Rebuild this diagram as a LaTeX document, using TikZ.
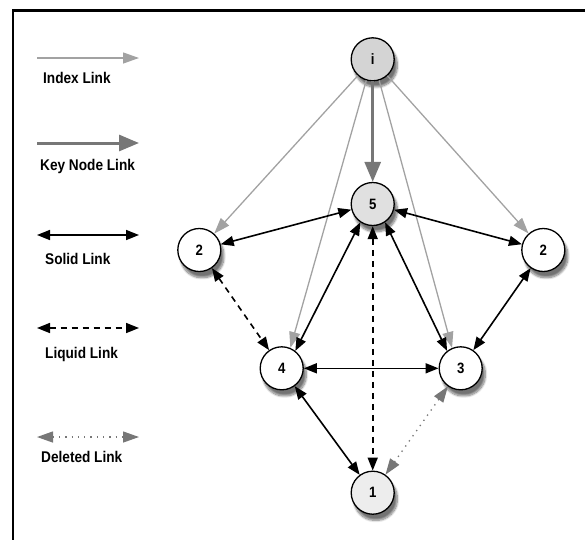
\documentclass[tikz,border=0pt]{standalone}
\usepackage{fontspec}
\usepackage{graphicx}
\setmainfont{Liberation Sans}
\usetikzlibrary{arrows.meta,shadows.blur}

\definecolor{indexgray}{HTML}{A2A2A2}
\definecolor{keygray}{HTML}{777777}

\newcommand{\narrow}[1]{\scalebox{0.88}[1]{#1}}

\tikzset{
  peer/.style={circle, draw, line width=1.3, minimum size=43, inner sep=0,
    fill=white, font=\fontsize{15}{17}\selectfont\bfseries,
    blur shadow={shadow xshift=3pt, shadow yshift=-6pt, shadow blur steps=10, shadow blur extra rounding=2pt, shadow opacity=55}},
  keypeer/.style={peer, fill=black!12},
  indexlink/.style={indexgray, line width=1.3, -{Triangle[length=16,width=11]}},
  keylink/.style={keygray, line width=3, -{Triangle[length=20,width=16]}},
  solidlink/.style={line width=1.6, {Triangle[length=13,width=10]}-{Triangle[length=13,width=10]}},
  liquidlink/.style={solidlink, dash pattern=on 6 off 5},
  deletedlink/.style={keygray, line width=1.3, dash pattern=on 1.3 off 5,
    {Triangle[length=16,width=11]}-{Triangle[length=16,width=11]}},
  legendtext/.style={anchor=west, inner sep=0, font=\fontsize{15.5}{17}\selectfont\bfseries}
}

\begin{document}
\begin{tikzpicture}[x=1pt, y=-1pt]
  \useasboundingbox (0,0) rectangle (585,539);

  % 1. Frame (only top and left edges show)
  \draw[line width=2.5] (13,545) |- (590,10.7);

  % 2. Legend: sample arrow and its name
  \foreach \y/\ty/\tx/\sty/\txt in {58/78/43/indexlink/Index Link,
      143/166/40/keylink/Key Node Link,
      235/259/45/solidlink/Solid Link,
      328/354/45/liquidlink/Liquid Link,
      437/457/41/deletedlink/Deleted Link} {
    \coordinate (from\y) at (37,\y);
    \coordinate (to\y) at (139,\y);
    \draw[\sty] (from\y) -- (to\y);
    \node[legendtext] (name\y) at (\tx,\ty) {\narrow{\txt}};
  }

  % 3. Peers
  \node[keypeer, fill=black!17] (i) at (372.7,59.3) {\narrow{i}};
  \node[keypeer] (five) at (372.7,204) {\narrow{5}};
  \node[peer] (twoL) at (199.3,250) {\narrow{2}};
  \node[peer] (twoR) at (543.3,250) {\narrow{2}};
  \node[peer] (four) at (281.7,368.3) {\narrow{4}};
  \node[peer] (three) at (460.7,368.3) {\narrow{3}};
  \node[keypeer, fill=black!7] (one) at (372.7,492.7) {\narrow{1}};

  % 4. Index links from i
  \draw[indexlink] (i) -- (twoL);
  \draw[indexlink] (i) -- (twoR);
  \draw[indexlink] (i.253) -- (four.67);
  \draw[indexlink] (i.-73) -- (three.113);
  \draw[keylink] (i) -- (five);

  % 5. Links between peers
  \draw[solidlink] (twoL) -- (five);
  \draw[solidlink] (twoR) -- (five);
  \draw[solidlink] (four.52) -- (five.236);
  \draw[solidlink] (three.128) -- (five.-56);
  \draw[solidlink] (twoR) -- (three);
  \draw[solidlink] (four) -- (three);
  \draw[solidlink] (four) -- (one);
  \draw[liquidlink] (five) -- (one);
  \draw[liquidlink] (twoL) -- (four);
  \draw[deletedlink] (three) -- (one);

\end{tikzpicture}
\end{document}
